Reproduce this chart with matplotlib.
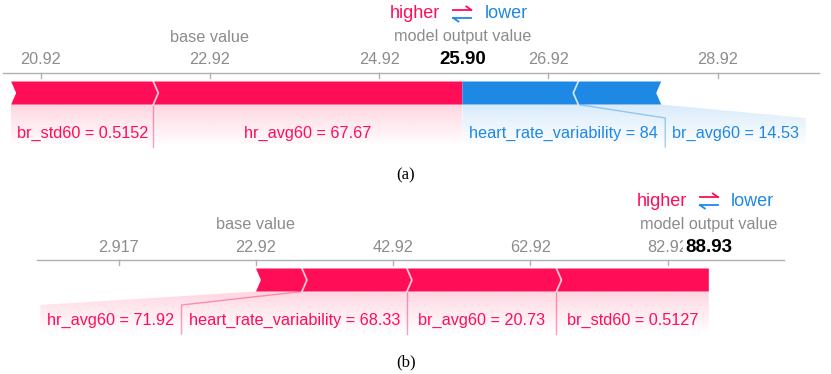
import matplotlib.pyplot as plt
import numpy as np
from matplotlib.colors import to_rgb
from matplotlib.patches import Polygon

plt.rcParams['font.family'] = ['Liberation Sans', 'DejaVu Sans']

RED = "#ff0d57"
BLUE = "#1e88e5"
GREY = "#8c8c8c"

base_value = 22.917

# panel (a), segments listed from the output value outwards
a_red_names = ["hr_avg60", "br_std60"]
a_red_feat = ["67.67", "0.5152"]
a_red_shap = [3.653, 1.68]
a_blue_names = ["heart_rate_variability", "br_avg60"]
a_blue_feat = ["84", "14.53"]
a_blue_shap = [1.37, 0.98]
a_tick_step = 2

# panel (b)
b_red_names = ["br_std60", "br_avg60", "heart_rate_variability", "hr_avg60"]
b_red_feat = ["0.5127", "20.73", "68.33", "71.92"]
b_red_shap = [22.213, 21.8, 15.3, 6.7]
b_blue_names = []
b_blue_feat = []
b_blue_shap = []
b_tick_step = 20

W, H = 831, 374
PH = 187  # panel height in px

fig = plt.figure(figsize=(W / 100, H / 100), dpi=100)
renderer = fig.canvas.get_renderer()

# layout (px, relative to panel top)
Y_HL = 14
Y_MOV = 37
Y_TICK = 60
Y_AXIS = 73
BAR_TOP, BAR_BOT = 81.5, 104.5
Y_LAB = 133.5
Y_BEND = 118
Y_END = 147
PAD = 14


def shade(ax, pts, color, x0, x1):
    poly = Polygon(pts, closed=True, facecolor="none", edgecolor="none")
    ax.add_patch(poly)
    n = 64
    grad = np.zeros((n, 1, 4))
    grad[:, 0, :3] = to_rgb(color)
    grad[:, 0, 3] = np.linspace(0.17, 0.0, n)
    im = ax.imshow(grad, extent=(x0, x1, Y_END, BAR_BOT), origin="upper",
                   aspect="auto", zorder=1, interpolation="bilinear")
    im.set_clip_path(poly)


def force_panel(ax, red_names, red_feat, red_shap, blue_names, blue_feat, blue_shap,
                step, xlim, axis_span, caption, top):
    ax.set_xlim(*xlim)
    ax.set_ylim(PH, 0)
    ax.axis("off")
    ppu = W / (xlim[1] - xlim[0])
    tip = 5 / ppu
    out = base_value + sum(red_shap) - sum(blue_shap)

    # axis line and ticks
    ax.plot(axis_span, [Y_AXIS, Y_AXIS], color="#b0b0b0", lw=1, zorder=2)
    k0 = int(np.ceil((axis_span[0] - base_value) / step))
    k1 = int(np.floor((axis_span[1] - base_value) / step))
    for k in range(k0, k1 + 1):
        t = base_value + k * step
        ax.plot([t, t], [Y_AXIS, Y_AXIS + 5], color="#b0b0b0", lw=1, zorder=2)
        ax.text(t, Y_TICK, f"{t:.4g}", ha="center", va="center", fontsize=11.7, color=GREY)

    ax.text(base_value, Y_MOV, "base value", ha="center", va="center", fontsize=11.7, color=GREY)
    ax.text(out, Y_MOV, "model output value", ha="center", va="center", fontsize=11.7, color=GREY)
    ax.text(out, Y_TICK, f"{out:.2f}", ha="center", va="center", fontsize=13.5,
            fontweight="bold", color="black", zorder=5,
            bbox=dict(boxstyle="square,pad=0.1", fc="white", ec="none"))

    # higher / lower legend
    ax.text(out - 22 / ppu, Y_HL, "higher", ha="right", va="center", fontsize=13, color=RED)
    ax.text(out + 22 / ppu, Y_HL, "lower", ha="left", va="center", fontsize=13, color=BLUE)
    a = 9 / ppu
    ax.plot([out - a, out + a], [Y_HL - 4, Y_HL - 4], color=RED, lw=1.3)
    ax.plot([out + a, out + a - 5 / ppu], [Y_HL - 4, Y_HL - 7.5], color=RED, lw=1.3)
    ax.plot([out - a, out + a], [Y_HL + 4, Y_HL + 4], color=BLUE, lw=1.3)
    ax.plot([out - a, out - a + 5 / ppu], [Y_HL + 4, Y_HL + 7.5], color=BLUE, lw=1.3)

    mid = (BAR_TOP + BAR_BOT) / 2

    # red bars (pushing right, ending at output)
    edges = [out]
    for v in red_shap:
        edges.append(edges[-1] - v)
    for i in range(len(red_shap)):
        r, l = edges[i], edges[i + 1]
        rt = r if i == 0 else r + tip
        pts = [(l, BAR_TOP), (r, BAR_TOP), (rt, mid), (r, BAR_BOT), (l, BAR_BOT), (l + tip, mid)]
        ax.add_patch(Polygon(pts, closed=True, fc=RED, ec="none", zorder=3))
        if i > 0:
            ax.plot([r, r + tip, r], [BAR_TOP, mid, BAR_BOT], color="white", lw=1.3, alpha=0.75, zorder=4)

    # blue bars (pushing left, starting at output)
    bedges = [out]
    for v in blue_shap:
        bedges.append(bedges[-1] + v)
    for i in range(len(blue_shap)):
        l, r = bedges[i], bedges[i + 1]
        lt = l if i == 0 else l - tip
        pts = [(l, BAR_TOP), (r, BAR_TOP), (r - tip, mid), (r, BAR_BOT), (l, BAR_BOT), (lt, mid)]
        ax.add_patch(Polygon(pts, closed=True, fc=BLUE, ec="none", zorder=3))
        if i > 0:
            ax.plot([l, l - tip, l], [BAR_TOP, mid, BAR_BOT], color="white", lw=1.3, alpha=0.75, zorder=4)

    # red labels
    cur = out
    for i, (n, f) in enumerate(zip(red_names, red_feat)):
        t = ax.text(0, Y_LAB, f"{n} = {f}", ha="center", va="center", fontsize=11.7, color=RED)
        tw = t.get_window_extent(renderer).width / ppu
        seg_l = edges[i + 1]
        if cur - seg_l < tw + 6 / ppu:
            left = cur - tw - PAD / ppu
        else:
            left = seg_l
        t.set_x((left + cur) / 2)
        if i > 0:
            b = edges[i]
            ax.plot([b, cur, cur], [BAR_BOT, Y_BEND if b != cur else BAR_BOT, Y_END],
                    color=RED, lw=1, alpha=0.4, zorder=2)
        cur = left
    if red_shap:
        shade(ax, [(out, BAR_BOT), (edges[-1], BAR_BOT), (cur, Y_BEND), (cur, Y_END), (out, Y_END)],
              RED, min(cur, edges[-1]), out)

    # blue labels
    cur = out
    for i, (n, f) in enumerate(zip(blue_names, blue_feat)):
        t = ax.text(0, Y_LAB, f"{n} = {f}", ha="center", va="center", fontsize=11.7, color=BLUE)
        tw = t.get_window_extent(renderer).width / ppu
        seg_r = bedges[i + 1]
        if seg_r - cur < tw + 6 / ppu:
            right = cur + tw + PAD / ppu
        else:
            right = seg_r
        t.set_x((right + cur) / 2)
        if i > 0:
            b = bedges[i]
            ax.plot([b, cur, cur], [BAR_BOT, Y_BEND if b != cur else BAR_BOT, Y_END],
                    color=BLUE, lw=1, alpha=0.4, zorder=2)
        cur = right
    if blue_shap:
        shade(ax, [(out, BAR_BOT), (bedges[-1], BAR_BOT), (cur, Y_BEND), (cur, Y_END), (out, Y_END)],
              BLUE, out, max(cur, bedges[-1]))

    ax.set_xlim(*xlim)
    ax.set_ylim(PH, 0)
    fig.text(406 / W, 1 - (top + 175) / H, caption, ha="center", va="center",
             fontsize=12, family="Liberation Serif", color="black")


ax_a = fig.add_axes([0, 0.5, 1, 0.5])
force_panel(ax_a, a_red_names, a_red_feat, a_red_shap, a_blue_names, a_blue_feat, a_blue_shap,
            a_tick_step, (20.435, 30.257), (20.47, 30.11), "(a)", 0)

ax_b = fig.add_axes([0, 0, 1, 0.5])
force_panel(ax_b, b_red_names, b_red_feat, b_red_shap, b_blue_names, b_blue_feat, b_blue_shap,
            b_tick_step, (-14.40, 106.74), (-9.0, 99.9), "(b)", PH)

fig.savefig("out.png", dpi=100)
